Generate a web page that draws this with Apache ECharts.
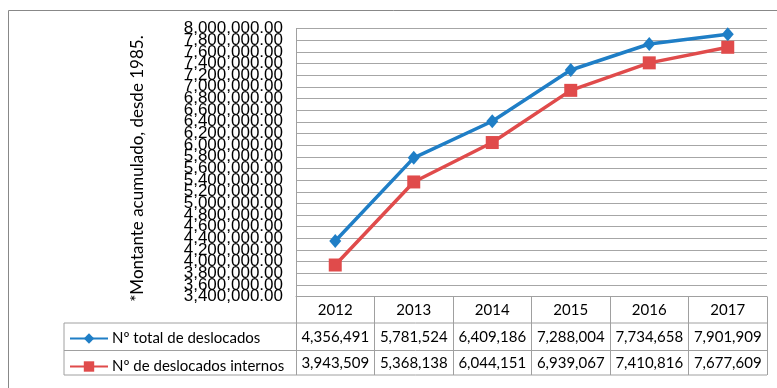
<!DOCTYPE html>
<html><head><meta charset="utf-8">
<script src="https://cdn.jsdelivr.net/npm/echarts@6/dist/echarts.min.js"></script>
<style>html,body{margin:0;padding:0;background:#fff}#c{width:777px;height:388px}</style>
</head><body><div id="c"></div>
<script>
const years = ['2012','2013','2014','2015','2016','2017'];
const totalDisplaced = [4356491, 5781524, 6409186, 7288004, 7734658, 7901909];
const internalDisplaced = [3943509, 5368138, 6044151, 6939067, 7410816, 7677609];
const seriesNames = ['Nº total de deslocados', 'Nº de deslocados internos'];
const yTitle = '*Montante acumulado, desde 1985.';
const yTicks = [3400000, 3600000, 3800000, 4000000, 4200000, 4400000, 4600000, 4800000,
  5000000, 5200000, 5400000, 5600000, 5800000, 6000000, 6200000, 6400000, 6600000,
  6800000, 7000000, 7200000, 7400000, 7600000, 7800000, 8000000];
const yEndTicks = [3400000, 8000000];
const yMin = 3400000, yMax = 8000000, yStep = 200000;

const BLUE = '#1f7ec6', RED = '#e04b4b', GRID = '#a6a6a6', TBL = '#a0a0a0';
const FONT = 'Lato, "Liberation Sans", sans-serif';
const YFONT = '"Liberation Sans Narrow", "Liberation Sans", sans-serif';
const chart = echarts.init(document.getElementById('c'), null, {renderer: 'canvas'});

const G = {left: 296, top: 28.5, width: 471, height: 268.2};
const rowTop1 = 323, rowTop2 = 350.5, rowBot = 375, legendLeft = 64;

function fmt(n){ return n.toLocaleString('en-US'); }
const yFmt = v => Number(v).toLocaleString('en-US', {minimumFractionDigits: 2, maximumFractionDigits: 2});

chart.setOption({
  animation: false,
  textStyle: {fontFamily: FONT},
  grid: {left: G.left, top: G.top, width: G.width, height: G.height, containLabel: false},
  legend: {
    orient: 'vertical', left: 69, top: 331, padding: 0, itemGap: 13, itemWidth: 38, itemHeight: 13,
    textStyle: {fontFamily: FONT, fontSize: 15, color: '#000', padding: [0,0,0,-1]},
    data: seriesNames
  },
  xAxis: {
    type: 'category', data: years, boundaryGap: true,
    axisLine: {show: true, lineStyle: {color: TBL, width: 1}},
    axisTick: {show: true, length: rowBot - (G.top + G.height), lineStyle: {color: TBL, width: 1}},
    axisLabel: {margin: 6, fontSize: 15, color: '#000', fontFamily: FONT},
    splitLine: {show: false}
  },
  yAxis: [{
    type: 'value', min: yMin, max: yMax, interval: yStep,
    name: yTitle, nameLocation: 'middle', nameGap: 150, nameRotate: 90,
    nameTextStyle: {fontSize: 17, color: '#000', fontFamily: FONT, padding: [0, 12, 0, 0]},
    axisLine: {show: true, lineStyle: {color: TBL, width: 1}},
    axisTick: {show: false},
    axisLabel: {margin: 13, fontSize: 17, color: '#000', hideOverlap: false,
      customValues: yTicks, fontFamily: YFONT, formatter: yFmt},
    splitLine: {show: true, lineStyle: {color: GRID, width: 1}}
  }, {
    type: 'value', position: 'left', offset: 0, min: yMin, max: yMax, interval: yStep,
    axisLine: {show: false}, axisTick: {show: false}, splitLine: {show: false},
    axisLabel: {margin: 13, fontSize: 17, color: '#000', showMinLabel: true, showMaxLabel: true,
      customValues: yEndTicks, fontFamily: YFONT, formatter: yFmt}
  }],
  series: [
    {name: seriesNames[0], type: 'line', data: totalDisplaced, symbol: 'diamond', symbolSize: [12, 14],
     lineStyle: {color: BLUE, width: 3.5}, itemStyle: {color: BLUE}},
    {name: seriesNames[1], type: 'line', data: internalDisplaced, symbol: 'rect', symbolSize: 13,
     lineStyle: {color: RED, width: 3.5}, itemStyle: {color: RED}}
  ]
});

const els = [];
els.push({type: 'rect', shape: {x: 8.5, y: 10.5, width: 900, height: 500},
  style: {fill: null, stroke: '#888', lineWidth: 1}, silent: true});
[rowTop1, rowTop2, rowBot].forEach(y => {
  els.push({type: 'line', shape: {x1: legendLeft, y1: y, x2: G.left + G.width, y2: y},
    style: {stroke: TBL, lineWidth: 1}, silent: true});
});
els.push({type: 'line', shape: {x1: legendLeft, y1: rowTop1, x2: legendLeft, y2: rowBot},
  style: {stroke: TBL, lineWidth: 1}, silent: true});
[totalDisplaced, internalDisplaced].forEach((arr, r) => {
  const yc = r === 0 ? (rowTop1 + rowTop2) / 2 : (rowTop2 + rowBot) / 2;
  arr.forEach((v, i) => {
    const x = chart.convertToPixel({xAxisIndex: 0}, i);
    els.push({type: 'text', x: x, y: yc, style: {text: fmt(v), fontFamily: FONT, fontSize: 15,
      fill: '#000', align: 'center', verticalAlign: 'middle'}, silent: true});
  });
});
chart.setOption({graphic: els});
</script></body></html>
